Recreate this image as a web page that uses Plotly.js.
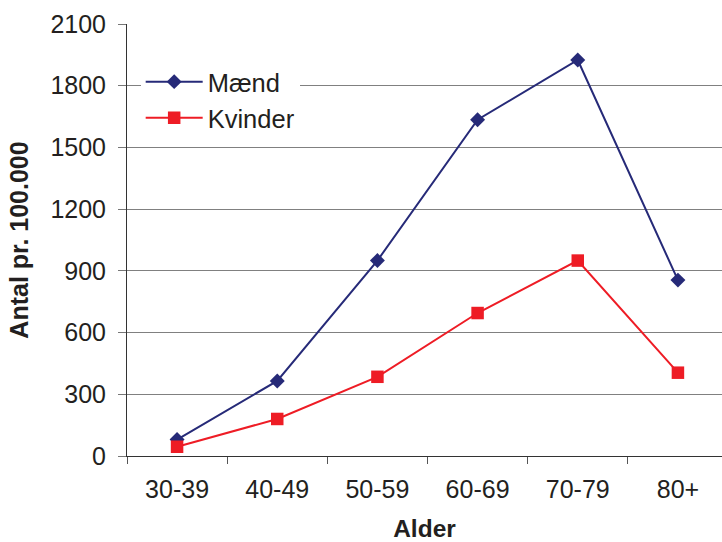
<!DOCTYPE html>
<html>
<head>
<meta charset="utf-8">
<script src="https://cdn.plot.ly/plotly-3.0.1.min.js"></script>
<style>html,body{margin:0;padding:0;background:#fff;overflow:hidden}</style>
</head>
<body>
<div id="chart" style="width:722px;height:542px"></div>
<script>
const categories = ["30-39", "40-49", "50-59", "60-69", "70-79", "80+"];
const maend = [80, 365, 950, 1635, 1925, 855];
const kvinder = [45, 180, 385, 695, 950, 405];
const yTicks = [0, 300, 600, 900, 1200, 1500, 1800, 2100];

const font = "Liberation Sans, Arial, sans-serif";

const traces = [
  {
    x: categories, y: maend, name: "Mænd", type: "scatter", mode: "lines+markers",
    line: {color: "#262a78", width: 2},
    marker: {symbol: "diamond", size: 11.5, color: "#262a78"}
  },
  {
    x: categories, y: kvinder, name: "Kvinder", type: "scatter", mode: "lines+markers",
    line: {color: "#ee1c25", width: 2},
    marker: {symbol: "square", size: 12.5, color: "#ee1c25"}
  }
];

const layout = {
  width: 722, height: 542,
  margin: {l: 127, r: 0, t: 24, b: 86, pad: 0},
  paper_bgcolor: "#fff", plot_bgcolor: "#fff",
  font: {family: font, color: "#231f20"},
  showlegend: true,
  legend: {
    x: 0.023, y: 0.92, xanchor: "left", yanchor: "top",
    bgcolor: "#fff", borderwidth: 0,
    font: {family: font, size: 25.5, color: "#231f20"},
    itemwidth: 57, tracegroupgap: 6
  },
  xaxis: {
    type: "category",
    range: [-0.5, 5.44],
    tickson: "boundaries",
    ticks: "outside", ticklen: 7, tickcolor: "#555", tickwidth: 1,
    showline: true, linecolor: "#333", linewidth: 1,
    showgrid: false, zeroline: false,
    tickfont: {family: font, size: 25, color: "#231f20"},
    ticklabelstandoff: 11,
    title: {text: "Alder", font: {family: font, size: 24.5, color: "#231f20", weight: "bold"}, standoff: 19}
  },
  yaxis: {
    range: [0, 2100],
    tickmode: "array", tickvals: yTicks, ticktext: yTicks.map(String),
    ticks: "outside", ticklen: 8, tickcolor: "#777", tickwidth: 1,
    showline: true, linecolor: "#333", linewidth: 1,
    showgrid: true, gridcolor: "#808080", gridwidth: 1,
    zeroline: false,
    tickfont: {family: font, size: 25, color: "#231f20"},
    ticklabelstandoff: 7,
    title: {text: "Antal pr. 100.000", font: {family: font, size: 25, color: "#231f20", weight: "bold"}, standoff: 14}
  }
};

Plotly.newPlot("chart", traces, layout, {displayModeBar: false, staticPlot: true});
</script>
</body>
</html>
